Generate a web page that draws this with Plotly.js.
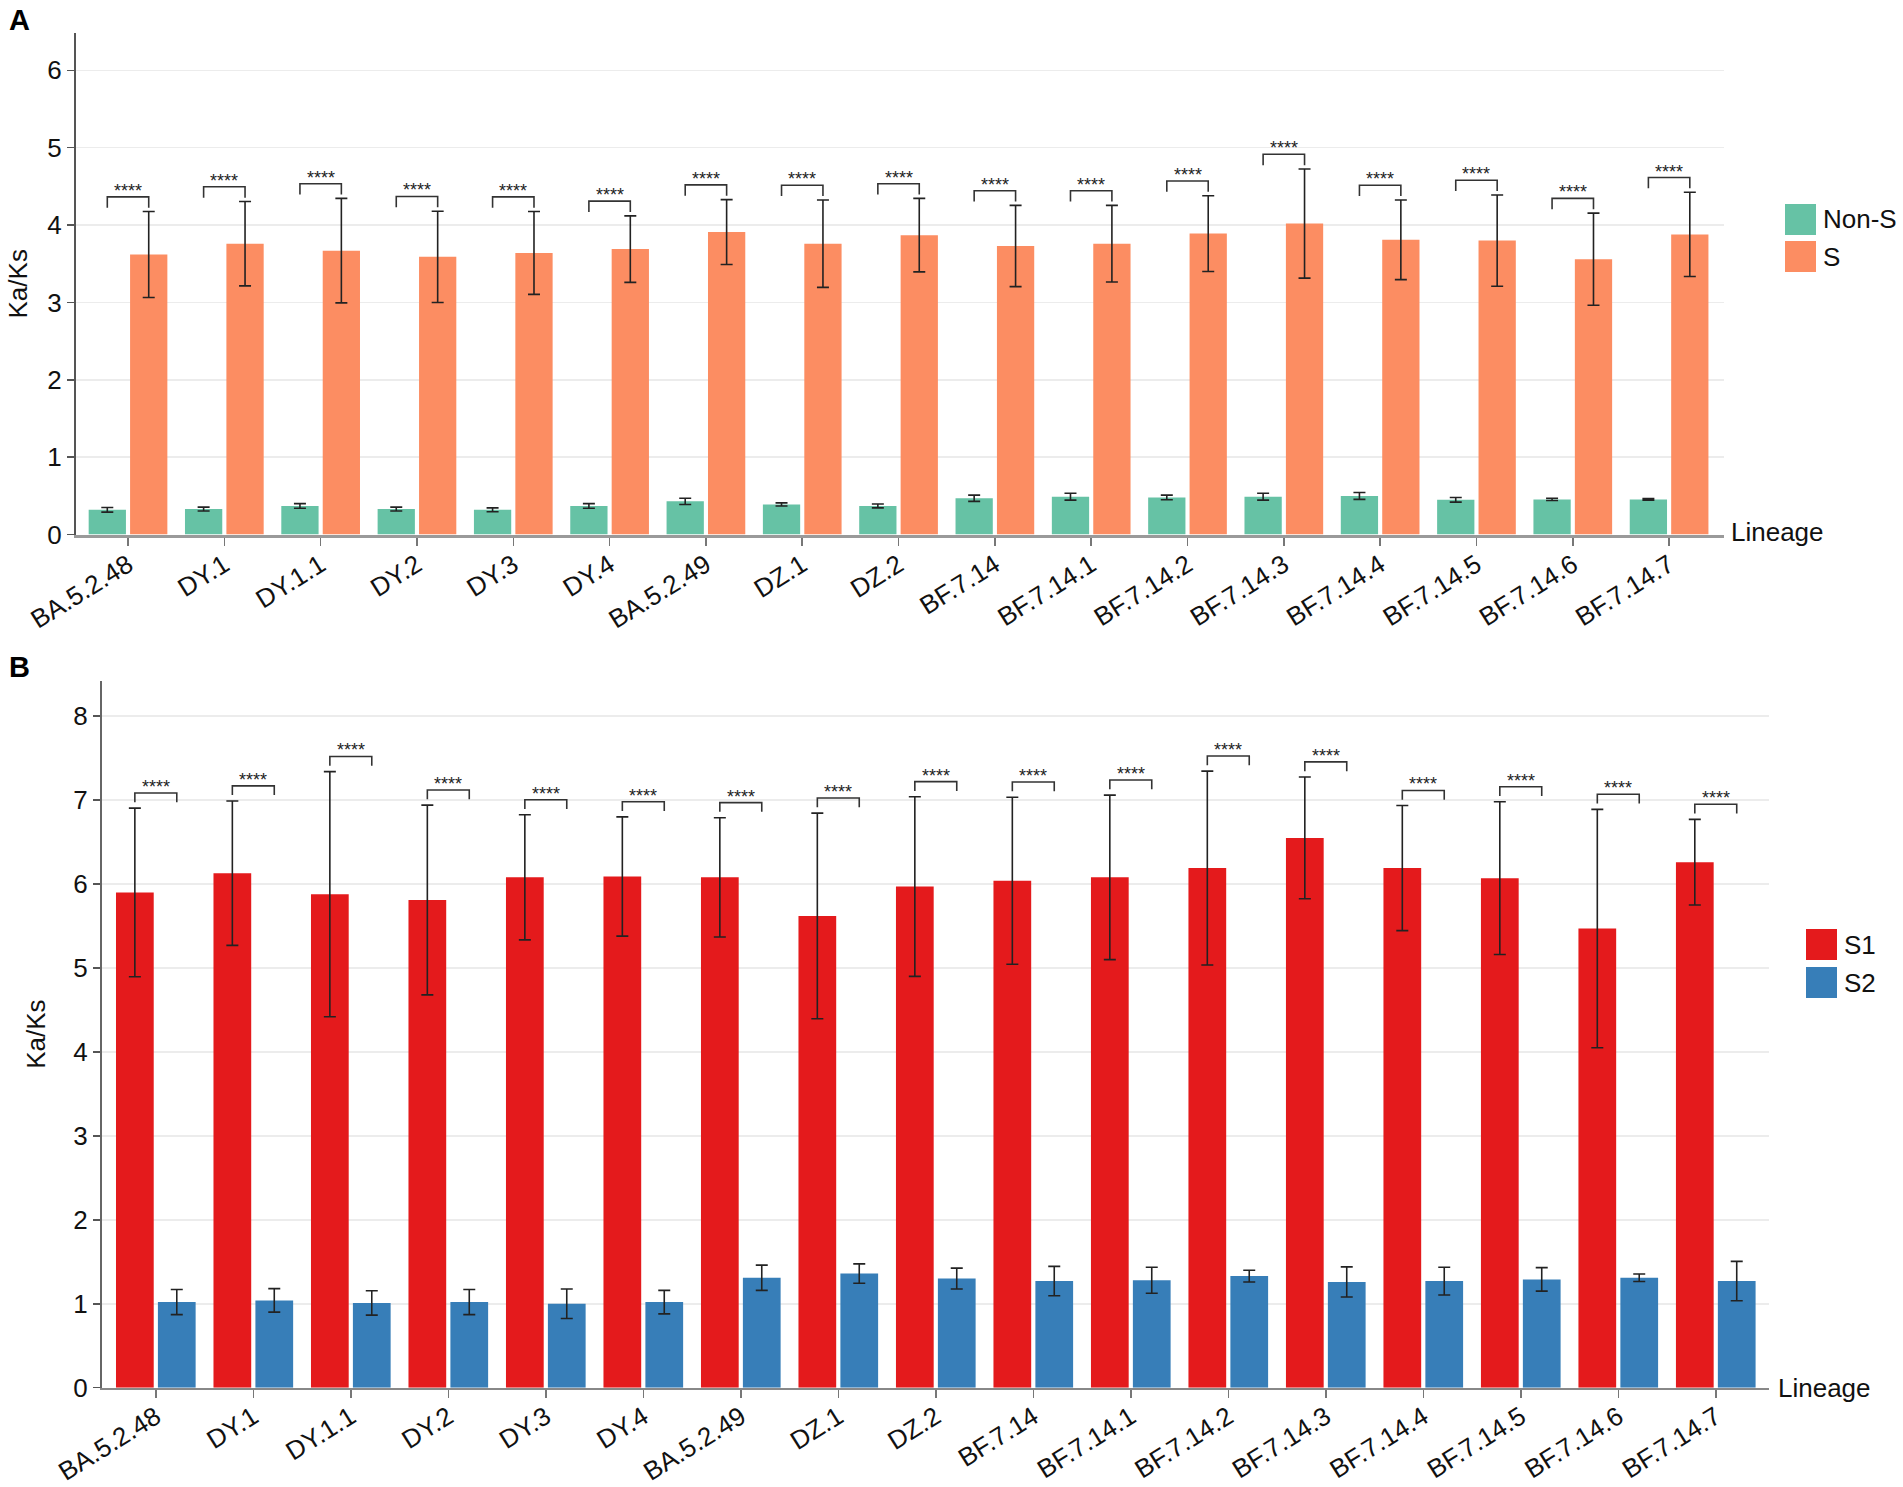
<!DOCTYPE html>
<html><head><meta charset="utf-8">
<script src="https://cdn.plot.ly/plotly-3.0.1.min.js"></script>
<style>html,body{margin:0;padding:0;background:#fff}</style>
</head><body>
<div id="chart" style="width:1903px;height:1487px"></div>
<script>
// ---------- data ----------
const lineages = ['BA.5.2.48','DY.1','DY.1.1','DY.2','DY.3','DY.4','BA.5.2.49','DZ.1','DZ.2',
  'BF.7.14','BF.7.14.1','BF.7.14.2','BF.7.14.3','BF.7.14.4','BF.7.14.5','BF.7.14.6','BF.7.14.7'];

// Panel A : Non-S vs S
const nonS    = [0.32,0.33,0.37,0.33,0.32,0.37,0.43,0.39,0.37,0.47,0.49,0.48,0.49,0.50,0.45,0.455,0.455];
const nonSErr = [0.03,0.025,0.03,0.025,0.025,0.03,0.04,0.02,0.025,0.04,0.045,0.03,0.045,0.045,0.03,0.015,0.01];
const sVals   = [3.62,3.76,3.67,3.59,3.64,3.69,3.91,3.76,3.87,3.73,3.76,3.89,4.02,3.81,3.80,3.56,3.88];
const sErr    = [0.555,0.545,0.675,0.59,0.535,0.43,0.42,0.565,0.475,0.525,0.495,0.49,0.705,0.515,0.59,0.595,0.545];

// Panel B : S1 vs S2
const s1    = [5.90,6.13,5.88,5.81,6.08,6.09,6.08,5.62,5.97,6.04,6.08,6.19,6.55,6.19,6.07,5.47,6.26];
const s1Err = [1.005,0.86,1.46,1.13,0.745,0.71,0.71,1.225,1.07,0.995,0.98,1.155,0.725,0.745,0.91,1.42,0.51];
const s2    = [1.02,1.04,1.01,1.02,1.00,1.02,1.31,1.36,1.30,1.27,1.28,1.33,1.26,1.27,1.29,1.31,1.27];
const s2Err = [0.15,0.14,0.145,0.15,0.175,0.14,0.15,0.115,0.125,0.175,0.155,0.07,0.18,0.165,0.14,0.045,0.235];

const sigLabel = '****';
const yTicksA = [0,1,2,3,4,5,6];
const yTicksB = [0,1,2,3,4,5,6,7,8];

// ---------- style ----------
const FONT = 'Liberation Sans, Arial, Helvetica, sans-serif';
const BARGAP = 0.14, GROUPGAP = 0.1;
const half = (1 - BARGAP) / 4;          // offset of each bar centre from the category centre
const idx = lineages.map((_, i) => i);
const errStyle = (arr) => ({type:'data', array:arr, visible:true, color:'#222', thickness:1.6, width:6});

const traces = [
  {type:'bar', name:'Non-S', x:idx, y:nonS, error_y:errStyle(nonSErr), marker:{color:'#66c2a5'}, xaxis:'x', yaxis:'y', showlegend:false},
  {type:'bar', name:'S',     x:idx, y:sVals, error_y:errStyle(sErr), marker:{color:'#fc8d62'}, xaxis:'x', yaxis:'y', showlegend:false},
  {type:'bar', name:'S1',    x:idx, y:s1, error_y:errStyle(s1Err), marker:{color:'#e41a1c'}, xaxis:'x2', yaxis:'y2', showlegend:false},
  {type:'bar', name:'S2',    x:idx, y:s2, error_y:errStyle(s2Err), marker:{color:'#377eb8'}, xaxis:'x2', yaxis:'y2', showlegend:false}
];

const shapes = [];
const annotations = [];

function addBrackets(vals, errs, xr, yr, lift, leg) {
  vals.forEach((v, i) => {
    const yb = v + errs[i] + lift;
    shapes.push({type:'path', xref:xr, yref:yr,
      path:`M ${i-half},${yb-leg} L ${i-half},${yb} L ${i+half},${yb} L ${i+half},${yb-leg}`,
      line:{color:'#333', width:1.6}});
    annotations.push({xref:xr, yref:yr, x:i, y:yb, text:sigLabel, showarrow:false,
      yanchor:'middle', yshift:6, font:{family:FONT, size:18, color:'#222'}});
  });
}
addBrackets(sVals, sErr, 'x', 'y', 0.19, 0.14);
addBrackets(s1, s1Err, 'x2', 'y2', 0.18, 0.11);

// custom legends (large swatches)
function legendItem(x0px, y0px, label, color) {
  const W = 1903, H = 1487;
  shapes.push({type:'rect', xref:'paper', yref:'paper',
    x0:x0px/W, x1:(x0px+31)/W, y0:1-(y0px+31)/H, y1:1-y0px/H,
    fillcolor:color, line:{width:0}});
  annotations.push({xref:'paper', yref:'paper', x:(x0px+36)/W, y:1-(y0px+15.5)/H,
    xanchor:'left', yanchor:'middle', text:label, showarrow:false,
    font:{family:FONT, size:26, color:'#111'}});
}
legendItem(1785, 204, 'Non-S', '#66c2a5');
legendItem(1785, 241, 'S', '#fc8d62');
legendItem(1806, 929, 'S1', '#e41a1c');
legendItem(1806, 967, 'S2', '#377eb8');

// axis-end "Lineage" labels and panel letters
annotations.push({xref:'paper', yref:'paper', x:1729/1903, y:1-532/1487, xanchor:'left', yanchor:'middle',
  text:'Lineage', showarrow:false, font:{family:FONT, size:26, color:'#111'}});
annotations.push({xref:'paper', yref:'paper', x:1776/1903, y:1-1388/1487, xanchor:'left', yanchor:'middle',
  text:'Lineage', showarrow:false, font:{family:FONT, size:26, color:'#111'}});
annotations.push({xref:'paper', yref:'paper', x:19/1903, y:1-20/1487, xanchor:'center', yanchor:'middle',
  text:'<b>A</b>', showarrow:false, font:{family:FONT, size:29, color:'#000'}});
annotations.push({xref:'paper', yref:'paper', x:19/1903, y:1-667/1487, xanchor:'center', yanchor:'middle',
  text:'<b>B</b>', showarrow:false, font:{family:FONT, size:29, color:'#000'}});

const xBase = {
  type:'linear', tickmode:'array', tickvals:idx, ticktext:lineages, tickangle:-32,
  ticks:'outside', ticklen:8, tickwidth:1.5, tickcolor:'#777', ticklabelstandoff:-6,
  showgrid:false, zeroline:false, showline:true,
  tickfont:{family:FONT, size:26, color:'#111'}, automargin:false
};
const yBase = {
  ticks:'outside', ticklen:7, tickwidth:1.5, tickcolor:'#555',
  showgrid:true, gridcolor:'#ececec', gridwidth:1.5, zeroline:false, showline:true,
  linecolor:'#555', linewidth:2, tickmode:'array',
  tickfont:{family:FONT, size:26, color:'#111'}, automargin:false
};

const layout = {
  width:1903, height:1487, autosize:false,
  margin:{l:0, r:0, t:0, b:0, pad:0},
  paper_bgcolor:'#fff', plot_bgcolor:'#fff',
  font:{family:FONT, size:26, color:'#111'},
  barmode:'group', bargap:BARGAP, bargroupgap:GROUPGAP,
  showlegend:false,
  xaxis: Object.assign({}, xBase, {domain:[76/1903, 1724/1903], range:[-0.54, 16.57], anchor:'y',
          linecolor:'#9a9a9a', linewidth:3}),
  yaxis: Object.assign({}, yBase, {domain:[1-534.6/1487, 1-33/1487], range:[0, 6.483], anchor:'x',
          tickvals:yTicksA, title:{text:'Ka/Ks', font:{family:FONT, size:26, color:'#111'}, standoff:12}}),
  xaxis2: Object.assign({}, xBase, {domain:[101.8/1903, 1769/1903], range:[-0.554, 16.546], anchor:'y2',
          linecolor:'#888', linewidth:2}),
  yaxis2: Object.assign({}, yBase, {domain:[1-1387.7/1487, 1-680.5/1487], range:[0, 8.425], anchor:'x2',
          linecolor:'#666', tickvals:yTicksB, title:{text:'Ka/Ks', font:{family:FONT, size:26, color:'#111'}, standoff:20}}),
  shapes: shapes,
  annotations: annotations
};

Plotly.newPlot('chart', traces, layout, {displayModeBar:false, staticPlot:true});
</script>
</body></html>
